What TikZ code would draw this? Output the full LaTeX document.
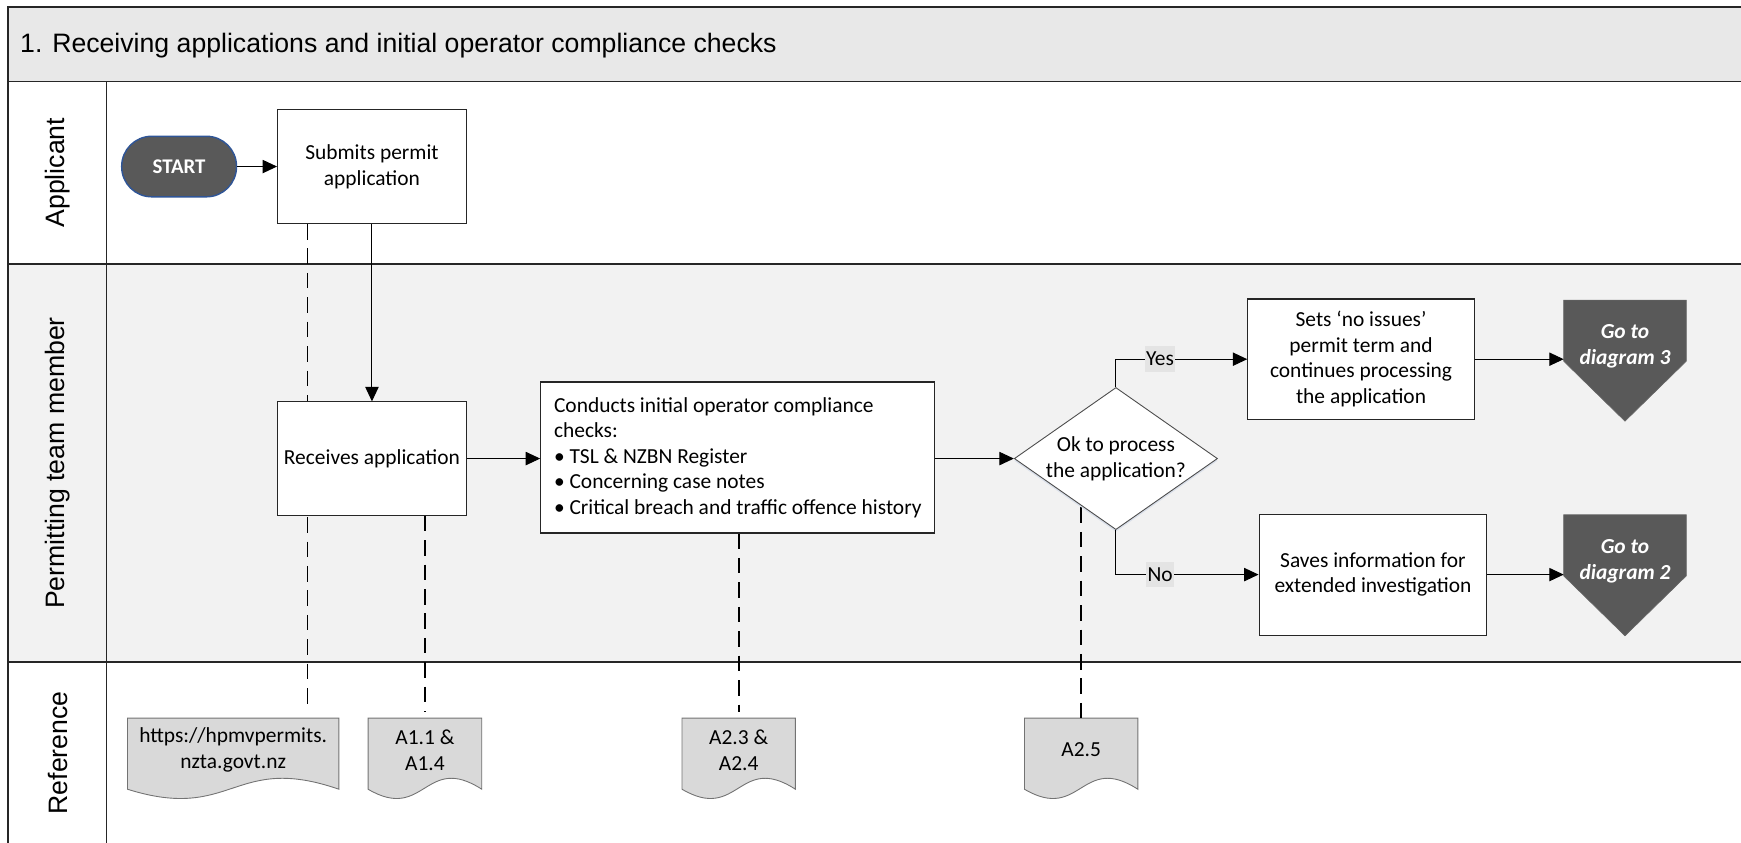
\documentclass[tikz,border=0pt]{standalone}
\usepackage{fontspec}
\setmainfont{Carlito}
\newfontfamily\headfont{Liberation Sans}
\usetikzlibrary{arrows.meta,shapes.geometric,calc,shadows}

\definecolor{bandgray}{HTML}{E8E8E8}
\definecolor{lanegray}{HTML}{F2F2F2}
\definecolor{docgray}{HTML}{D9D9D9}
\definecolor{darkfill}{HTML}{595959}
\definecolor{startedge}{HTML}{2F5597}
\definecolor{answergray}{HTML}{E4E4E4}
\definecolor{inkline}{HTML}{262626}

\pgfdeclarelayer{lanes}
\pgfdeclarelayer{wires}
\pgfsetlayers{lanes,wires,main}

\newcommand\bodysize{\fontsize{19.3}{23}\selectfont}
\newcommand\headsize{\fontsize{24}{28}\selectfont}

\begin{document}
\begin{tikzpicture}[x=1pt,y=-1pt,
  frameline/.style={line width=1.6pt, draw=inkline},
  lanetitle/.style={rotate=90, font=\headfont\headsize, inner sep=0pt},
  process/.style={draw=inkline, line width=1pt, fill=white, align=center,
    font=\bodysize, inner sep=0pt},
  startnode/.style={rounded corners=27pt, minimum width=103.4pt, minimum height=54.5pt,
    fill=darkfill, draw=startedge, line width=1.3pt, text=white, inner sep=0pt,
    font=\bfseries\fontsize{18.8}{22}\selectfont},
  decision/.style={diamond, minimum width=183pt, minimum height=128pt, inner sep=0pt,
    draw=black!70, line width=0.8pt, fill=white,
    drop shadow={shadow xshift=0pt, shadow yshift=-2pt, fill=startedge!25, opacity=0.6}},
  offpage/.style={minimum width=110pt, minimum height=83pt, inner sep=0pt, align=center,
    text=white, font=\bfseries\itshape\bodysize},
  offpageedge/.style={fill=darkfill, draw=black!60, line width=0.6pt},
  refdoc/.style={minimum height=57pt, inner sep=0pt, align=center, font=\bodysize},
  docedge/.style={fill=docgray, draw=black!55, line width=0.8pt},
  wire/.style={line width=0.9pt, draw=black},
  flow/.style={wire, -{Triangle[length=13pt,width=12pt]}},
  refline/.style={line width=1.5pt, draw=black, dash pattern=on 14pt off 8pt},
  answer/.style={fill=answergray, inner xsep=1pt, inner ysep=0pt, minimum height=23pt,
    font=\bodysize}
]
\useasboundingbox (0,0) rectangle (1568,759);

% swimlane backgrounds and frame
\begin{pgfonlayer}{lanes}
  \fill[bandgray] (7.5,6) rectangle (1580,73.5);
  \fill[lanegray] (7.5,238) rectangle (1580,596);
  \draw[frameline] (1580,6) -- (7.5,6) -- (7.5,770);
  \draw[frameline] (7.5,73.5) -- (1580,73.5);
  \draw[frameline] (7.5,238) -- (1580,238);
  \draw[frameline] (7.5,596) -- (1580,596);
  \draw[frameline] (96,73.5) -- (96,770);
\end{pgfonlayer}

% heading and lane titles
\node[anchor=base west, inner sep=0pt, font=\headfont\headsize] (heading) at (18,47.5)
  {1. Receiving applications and initial operator compliance checks};
\node[lanetitle] (laneA) at (52,155.5) {Applicant};
\node[lanetitle] (laneP) at (52,417) {Permitting team member};
\node[lanetitle] (laneR) at (52,678) {Reference};

% process steps
\node[startnode] (start) at (161.3,150) {START};
\node[process, minimum width=170pt, minimum height=102.5pt] (submit) at (335,150)
  {Submits permit\\application};
\node[process, minimum width=170pt, minimum height=102pt] (receive) at (335,413)
  {Receives application};
\node[process, minimum width=355pt, minimum height=136pt, align=left]
  (checks) at (664.5,412)
  {Conducts initial operator compliance\\checks:\\
   \textbullet\ TSL \& NZBN Register\\
   \textbullet\ Concerning case notes\\
   \textbullet\ Critical breach and traffic offence history};
\node[decision, label={[name=decidetext, align=center, font=\bodysize]center:Ok to process\\the application?}]
  (decide) at (1005,413) {};
\node[process, minimum width=204pt, minimum height=108.5pt] (setterm) at (1225.8,323.5)
  {Sets ‘no issues’\\permit term and\\continues processing\\the application};
\node[process, minimum width=205pt, minimum height=109pt] (saveinfo) at (1236.5,517.5)
  {Saves information for\\extended investigation};

% off-page references
\node[offpage] (goto3) at (1463.5,312) {Go to\\diagram 3};
\node[offpage] (goto2) at (1463.5,505.3) {Go to\\diagram 2};
\coordinate (goto3in) at ($(goto3.north west)+(0,55)$);
\coordinate (goto2in) at ($(goto2.north west)+(0,55)$);

% reference documents
\node[refdoc, minimum width=190pt] (docweb) at (210,675.5) {https://hpmvpermits.\\nzta.govt.nz};
\node[refdoc, minimum width=102pt] (docA) at (382.7,675.5) {A1.1 \&\\A1.4};
\node[refdoc, minimum width=101.7pt] (docB) at (665.3,675.5) {A2.3 \&\\A2.4};
\node[refdoc, minimum width=101.7pt] (docC) at (973.7,675.5) {A2.5};
\coordinate (webtap) at (277,636);

\begin{pgfonlayer}{wires}
  \foreach \g in {goto3,goto2} {
    \draw[offpageedge] (\g.north west) -- ++(0,55) -- ($(\g.north)+(0,109)$)
      -- ($(\g.north east)+(0,55)$) -- (\g.north east) -- cycle;
  }
  \foreach \d in {docweb,docA,docB,docC} {
    \draw[docedge] (\d.north west) -- ++(0,64)
      .. controls ($(\d.north)+(0,94)$) and ($(\d.north)+(0,31)$) ..
      ($(\d.north east)+(0,64)$) -- (\d.north east) -- cycle;
  }
  % dashed links to the reference documents
  \draw[refline] (submit.south -| webtap) -- (webtap);
  \draw[refline, shorten >=6pt] (receive.south -| docA.north) -- (docA.north);
  \draw[refline, shorten >=6pt] (checks.south -| docB.north) -- (docB.north);
  \draw[refline] (decide.center -| docC.north) -- (docC.north);
\end{pgfonlayer}

% flow connectors
\draw[flow] (start) -- (submit);
\draw[flow] (submit.south) -- (receive.north);
\draw[flow] (receive) -- (checks.west |- receive);
\draw[flow] (decide.west -| checks.east) -- (decide.west);
\draw[flow] (decide.north) |- (setterm.west) node[answer, pos=0.668] (yes) {Yes};
\draw[flow] (decide.south) |- (saveinfo.west) node[answer, pos=0.655] (no) {No};
\draw[flow] (setterm.east) -- (setterm.east -| goto3in);
\draw[flow] (saveinfo.east) -- (saveinfo.east -| goto2in);
\end{tikzpicture}
\end{document}
